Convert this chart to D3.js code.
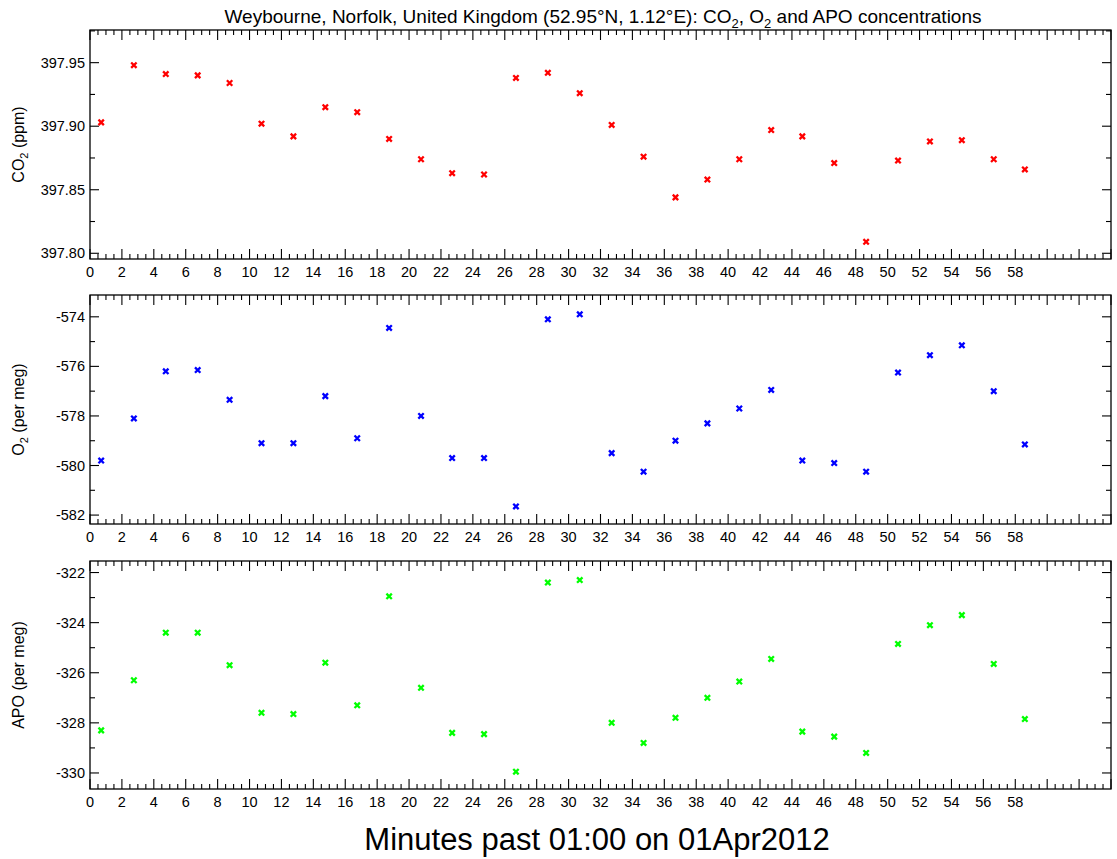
<!DOCTYPE html>
<html>
<head>
<meta charset="utf-8">
<script src="https://cdn.jsdelivr.net/npm/d3@7"></script>
<style>
  body { margin: 0; background: #fff; }
  svg text { font-family: "Liberation Sans", Arial, Helvetica, sans-serif; fill: #000; }
</style>
</head>
<body>
<div id="chart"></div>
<script>
// sample times, minutes past 01:00
const minutes = [0.7, 2.75, 4.75, 6.75, 8.75, 10.75, 12.75, 14.75, 16.75, 18.75,
  20.75, 22.7, 24.7, 26.7, 28.7, 30.7, 32.7, 34.7, 36.7, 38.7,
  40.7, 42.7, 44.65, 46.65, 48.65, 50.65, 52.65, 54.65, 56.65, 58.6];

const co2 = [397.903, 397.948, 397.941, 397.940, 397.934, 397.902, 397.892, 397.915, 397.911, 397.890,
  397.874, 397.863, 397.862, 397.938, 397.942, 397.926, 397.901, 397.876, 397.844, 397.858,
  397.874, 397.897, 397.892, 397.871, 397.809, 397.873, 397.888, 397.889, 397.874, 397.866];

const o2 = [-579.8, -578.1, -576.2, -576.15, -577.35, -579.1, -579.1, -577.2, -578.9, -574.45,
  -578.0, -579.7, -579.7, -581.65, -574.1, -573.9, -579.5, -580.25, -579.0, -578.3,
  -577.7, -576.95, -579.8, -579.9, -580.25, -576.25, -575.55, -575.15, -577.0, -579.15];

const apo = [-328.3, -326.3, -324.4, -324.4, -325.7, -327.6, -327.65, -325.6, -327.3, -322.95,
  -326.6, -328.4, -328.45, -329.95, -322.4, -322.3, -328.0, -328.8, -327.8, -327.0,
  -326.35, -325.45, -328.35, -328.55, -329.2, -324.85, -324.1, -323.7, -325.65, -327.85];

const xTicks = [0, 2, 4, 6, 8, 10, 12, 14, 16, 18, 20, 22, 24, 26, 28, 30,
  32, 34, 36, 38, 40, 42, 44, 46, 48, 50, 52, 54, 56, 58];
const co2Ticks = ['397.80', '397.85', '397.90', '397.95'];
const o2Ticks = ['-582', '-580', '-578', '-576', '-574'];
const apoTicks = ['-330', '-328', '-326', '-324', '-322'];

const width = 1117, height = 859;
const left = 90, right = 1111;

const svg = d3.select('#chart').append('svg')
  .attr('width', width)
  .attr('height', height);

const x = d3.scaleLinear().domain([0, 64]).range([left, right]);

const panels = [
  { values: co2, color: '#ff0000', domain: [397.7955, 397.9757], top: 30, bottom: 259,
    ticks: co2Ticks, minorStep: 0.025, label: ['CO', '2', ' (ppm)'] },
  { values: o2, color: '#0000ff', domain: [-582.36, -573.12], top: 295, bottom: 524,
    ticks: o2Ticks, minorStep: 1, label: ['O', '2', ' (per meg)'] },
  { values: apo, color: '#00ff00', domain: [-330.64, -321.54], top: 561, bottom: 789,
    ticks: apoTicks, minorStep: 1, label: ['APO (per meg)'] }
];

const xMinor = d3.range(0, 64.01, 0.5);

panels.forEach(p => {
  const y = d3.scaleLinear().domain(p.domain).range([p.bottom, p.top]);
  const g = svg.append('g');
  const tickVals = p.ticks.map(Number);

  // frame
  g.append('rect')
    .attr('x', left).attr('y', p.top)
    .attr('width', right - left).attr('height', p.bottom - p.top)
    .attr('fill', 'none').attr('stroke', '#000').attr('stroke-width', 1.3);

  // x ticks, bottom and top, pointing inward
  xMinor.forEach(v => {
    const major = Math.abs(v / 2 - Math.round(v / 2)) < 1e-6;
    const len = major ? 10 : 5;
    g.append('line').attr('x1', x(v)).attr('x2', x(v))
      .attr('y1', p.bottom).attr('y2', p.bottom - len)
      .attr('stroke', '#000').attr('stroke-width', 1.1);
    g.append('line').attr('x1', x(v)).attr('x2', x(v))
      .attr('y1', p.top).attr('y2', p.top + len)
      .attr('stroke', '#000').attr('stroke-width', 1.1);
  });

  g.selectAll('text.xt')
    .data(xTicks)
    .join('text')
      .attr('class', 'xt')
      .attr('x', d => x(d))
      .attr('y', p.bottom + 18)
      .attr('text-anchor', 'middle')
      .attr('font-size', '14.5px')
      .text(d => d);

  // y ticks, left and right
  const yMinor = d3.range(tickVals[0] - p.minorStep * 4, p.domain[1], p.minorStep)
    .filter(v => v >= p.domain[0] && v <= p.domain[1]);
  yMinor.forEach(v => {
    const major = tickVals.some(t => Math.abs(t - v) < p.minorStep / 10);
    const len = major ? 9 : 5;
    g.append('line').attr('x1', left).attr('x2', left + len)
      .attr('y1', y(v)).attr('y2', y(v))
      .attr('stroke', '#000').attr('stroke-width', 1.1);
    g.append('line').attr('x1', right).attr('x2', right - len)
      .attr('y1', y(v)).attr('y2', y(v))
      .attr('stroke', '#000').attr('stroke-width', 1.1);
  });

  g.selectAll('text.yt')
    .data(p.ticks)
    .join('text')
      .attr('class', 'yt')
      .attr('x', left - 5)
      .attr('y', d => y(+d) + 5)
      .attr('text-anchor', 'end')
      .attr('font-size', '14.5px')
      .text(d => d);

  // y label
  const lab = g.append('text')
    .attr('transform', `translate(24,${(p.top + p.bottom) / 2}) rotate(-90)`)
    .attr('text-anchor', 'middle')
    .attr('font-size', '16px');
  lab.append('tspan').text(p.label[0]);
  if (p.label.length > 1) {
    lab.append('tspan').attr('font-size', '11px').attr('dy', 4).text(p.label[1]);
    lab.append('tspan').attr('dy', -4).text(p.label[2]);
  }

  // markers
  g.selectAll('path.pt')
    .data(p.values)
    .join('path')
      .attr('class', 'pt')
      .attr('transform', (d, i) => `translate(${x(minutes[i])},${y(d)})`)
      .attr('d', 'M-2.7,-2.7L2.7,2.7M-2.7,2.7L2.7,-2.7')
      .attr('stroke', p.color)
      .attr('stroke-width', 2.3)
      .attr('fill', 'none');
});

// title
const title = svg.append('text')
  .attr('x', 603).attr('y', 23)
  .attr('text-anchor', 'middle')
  .attr('font-size', '19px');
title.append('tspan').text('Weybourne, Norfolk, United Kingdom (52.95°N, 1.12°E): CO');
title.append('tspan').attr('font-size', '13px').attr('dy', 5).text('2');
title.append('tspan').attr('dy', -5).text(', O');
title.append('tspan').attr('font-size', '13px').attr('dy', 5).text('2');
title.append('tspan').attr('dy', -5).text(' and APO concentrations');

svg.append('text')
  .attr('x', 597).attr('y', 850)
  .attr('text-anchor', 'middle')
  .attr('font-size', '31px')
  .text('Minutes past 01:00 on 01Apr2012');
</script>
</body>
</html>
